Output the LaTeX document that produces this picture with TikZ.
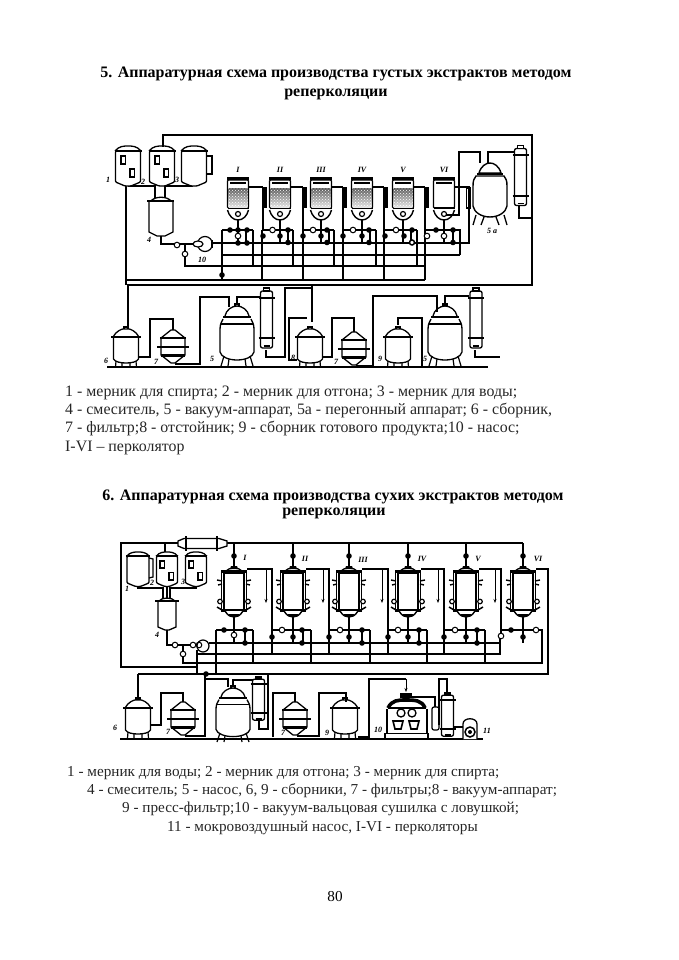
\documentclass[tikz,border=0pt]{standalone}
\usepackage{fontspec}
\setmainfont{Liberation Serif}
\usetikzlibrary{arrows.meta,patterns}
\newcommand\bcirc[2]{\fill (#1,#2) circle (2.8);}
\newcommand\wcirc[2]{\draw[fill=white,line width=1pt] (#1,#2) circle (2.8);}
\tikzset{
  pipe/.style={line width=1.05pt},
  fl/.style={line width=2.3pt},
  arr/.style={line width=1pt,-{Stealth[length=4pt,width=3pt]}},
  txta/.style={font=\fontsize{15.9}{17}\selectfont,inner sep=0pt,anchor=west,text=black!85},
  txtb/.style={font=\fontsize{15.2}{17}\selectfont,inner sep=0pt,anchor=west,text=black!85},
  ttl/.style={font=\fontsize{16}{18}\selectfont\bfseries,inner sep=0pt,anchor=center},
  lab/.style={font=\fontsize{8}{8}\selectfont\bfseries\itshape,inner sep=0pt},
  pics/msrtank/.style={code={
    \draw[line width=1.3pt,fill=white,rounded corners=1pt] (-12.5,5) -- (-12.5,36) -- (-3,40) -- (3,40) -- (12.5,36) -- (12.5,5) -- cycle;
    \draw[line width=1.3pt] (-13,5) .. controls (-9,0) and (-4,0) .. (0,0) .. controls (4,0) and (9,0) .. (13,5);
    \draw[line width=2pt] (-13.5,5) -- (13.5,5);
  }},
  pics/wins/.style={code={
    \draw[line width=1.5pt] (-7,10) rectangle (-2.5,18);
    \draw[line width=1.5pt] (2,23) rectangle (6.5,31);
  }},
  pics/vesl/.style={code={
    \draw[line width=1.3pt,fill=white] (-12.5,0) -- (-12.5,22) .. controls (-11,25) and (-5,26) .. (0,26) .. controls (5,26) and (11,25) .. (12.5,22) -- (12.5,0);
    \draw[line width=1.3pt] (-13,0) .. controls (-10,-6) and (-4,-8) .. (-3,-8) -- (3,-8) .. controls (4,-8) and (10,-6) .. (13,0);
    \draw[line width=1.6pt] (-2,-8) -- (-2,-10) -- (2,-10) -- (2,-8);
    \draw[fl] (-15,0) -- (15,0);
    \draw[line width=1.2pt] (-10,24) -- (-10.5,30) (10,24) -- (10.5,30) (-4,26) -- (-4,30) (4,26) -- (4,30);
  }},
  pics/filt/.style={code={
    \draw[line width=1.3pt,fill=white] (-2,-17) -- (2,-17) -- (12,-9) -- (12,8) -- (2,16) -- (-2,16) -- (-12,8) -- (-12,-9) -- cycle;
    \draw[fl] (-13,-9) -- (13,-9);
    \draw[line width=2pt] (-16,0) -- (16,0);
    \draw[line width=3pt] (-12,8) -- (12,8);
  }},
  pics/vacap/.style={code={
    \draw[line width=1.3pt,fill=white] (-14,3) .. controls (-16,6) and (-17,9) .. (-17,14) -- (-17,36) .. controls (-16,41) and (-8,44) .. (0,44) .. controls (8,44) and (16,41) .. (17,36) -- (17,14) .. controls (17,9) and (16,6) .. (14,3);
    \draw[line width=1.3pt] (-12,0) .. controls (-11,-6) and (-5,-10) .. (0,-10) .. controls (5,-10) and (11,-6) .. (12,0);
    \draw[line width=2.8pt] (-14,1) -- (14,1);
    \draw[line width=1.3pt] (-16,8) -- (16,8);
    \draw[line width=1.2pt] (-13,40) -- (-16,50) (13,40) -- (16,50) (-8,43) -- (-9,50) (8,43) -- (9,50);
    \draw[line width=1.6pt] (-2,-10) -- (-2,-12) -- (2,-12) -- (2,-10);
  }},
  pics/condn/.style={code={
    \draw[line width=1.3pt,fill=white,rounded corners=2pt] (-6,3) rectangle (6,60);
    \draw[line width=1.4pt,fill=white] (-3,0) rectangle (3,3);
    \draw[line width=2pt] (-8,10) -- (8,10) (-8,50) -- (8,50);
    \draw[line width=1.6pt] (-3,58) -- (3,58);
  }},
  pics/percE/.style={code={
    \draw[line width=1.4pt,fill=white,rounded corners=1pt] (-10.5,3) rectangle (10.5,31);
    \draw[line width=3pt] (-11,1.5) -- (11,1.5);
    \draw[line width=1.6pt] (-8,6) -- (8,6);
    \draw[line width=1.4pt,fill=white] (-10.5,33) .. controls (-9,39) and (-5,43) .. (0,43) .. controls (5,43) and (9,39) .. (10.5,33);
    \draw[line width=2.2pt] (-10.5,31) -- (10.5,31);
    \draw[line width=1.2pt,fill=white] (0,37) circle (2.5);
  }},
  pics/percA/.style={code={
    \pic at (0,0) {percE};
    \shade[top color=black!65,bottom color=black!10] (-9.5,11) rectangle (9.5,30);
    \fill[pattern=crosshatch dots,pattern color=white] (-9.5,11) rectangle (9.5,30);
  }},
  pics/percB/.style={code={
    \draw[line width=1.7pt,fill=white] (-10,6) rectangle (10,43);
    \draw[line width=1pt] (-12.5,5) -- (-12.5,43) (12.5,5) -- (12.5,43);
    \draw[line width=1.3pt,fill=white] (-8,4) .. controls (-5,0) and (5,0) .. (8,4);
    \draw[line width=2.3pt] (-13,4.5) -- (13,4.5);
    \draw[line width=2.3pt] (-13,43.5) -- (13,43.5);
    \fill (-3,-1) -- (3,-1) -- (4,2) -- (-4,2) -- cycle;
    \draw[line width=1.4pt] (-17,13) -- (-12,14) (17,13) -- (12,14) (-16,18) -- (-12,17) (16,18) -- (12,17);
    \draw[line width=1.2pt,fill=white] (-14,34.5) circle (2.3);
    \draw[line width=1.2pt,fill=white] (14,34.5) circle (2.3);
    \draw[line width=1.5pt] (-17,40) -- (-12,43) (17,40) -- (12,43);
    \draw[line width=1.4pt,fill=white] (-9,44) .. controls (-6,49) and (-3,50) .. (0,50) .. controls (3,50) and (6,49) .. (9,44);
    \draw[line width=2pt] (-5,47.5) -- (5,47.5);
  }},
}
\begin{document}
\begin{tikzpicture}[x=1pt,y=-1pt]
\useasboundingbox (0,0) rectangle (678,960);
% ===== texts
\node[ttl] (t1a) at (336,74) {5. Аппаратурная схема производства густых экстрактов методом};
\node[ttl] (t1b) at (336,94) {реперколяции};
\node[txta] (c1a) at (65,393) {1 - мерник для спирта; 2 - мерник для отгона; 3 - мерник для воды;};
\node[txta] (c1b) at (65,411) {4 - смеситель, 5 - вакуум-аппарат, 5а - перегонный аппарат; 6 - сборник,};
\node[txta] (c1c) at (65,429) {7 - фильтр;8 - отстойник; 9 - сборник готового продукта;10 - насос;};
\node[txta] (c1d) at (65,448) {I-VI – перколятор};
\node[ttl] (t2a) at (333,497) {6. Аппаратурная схема производства сухих экстрактов методом};
\node[ttl] (t2b) at (334,513) {реперколяции};
\node[txtb] (c2a) at (67,773) {1 - мерник для воды; 2 - мерник для отгона; 3 - мерник для спирта;};
\node[txtb] (c2b) at (87,791) {4 - смеситель; 5 - насос, 6, 9 - сборники, 7 - фильтры;8 - вакуум-аппарат;};
\node[txtb] (c2c) at (122,809) {9 - пресс-фильтр;10 - вакуум-вальцовая сушилка с ловушкой;};
\node[txtb] (c2d) at (167,828) {11 - мокровоздушный насос, I-VI - перколяторы};
\node[font=\fontsize{15.2}{17}\selectfont,inner sep=0pt] (pg) at (335,897) {80};

% ===== DIAGRAM 1 : upper part
\draw[pipe] (163,147) -- (163,135) -- (532,135) -- (532,285) -- (127,285);
\draw[pipe] (127,280) -- (425,280);
\draw[pipe] (126,186) -- (126,285);
\draw[pipe] (128,186) -- (155,186) -- (155,198);
\draw[pipe] (193,186) -- (165,186) -- (165,198);
\pic at (128,146) {msrtank}; \pic at (128,146) {wins};
\pic at (162,146) {msrtank}; \pic at (162,146) {wins};
\pic at (194,146) {msrtank};
\draw[line width=1.3pt] (206.5,156) -- (212,156) -- (212,174) -- (206.5,174);
% mixer
\draw[line width=1.3pt,fill=white] (149,201) -- (149,232) -- (157,236) -- (165,236) -- (173,232) -- (173,201);
\draw[line width=1.3pt] (151,201) .. controls (155,196) and (167,196) .. (171,201);
\draw[fl] (147,201) -- (174,201);
\draw[pipe] (161,236) -- (161,244) -- (198,244);
\draw[pipe] (185,244) -- (185,266) -- (425,266);
\draw[line width=1.2pt,fill=white] (205,244) circle (7.5);
\draw[line width=1.2pt,fill=white] (198,244) ellipse (5 and 3);
\draw[line width=1.5pt] (212,240) -- (212,248);
\wcirc{177}{245}
\wcirc{185}{254}
% buses
\draw[pipe] (212,243) -- (469,243) -- (469,187) -- (455,187);
\draw[pipe] (222,255) -- (460,255);
% network
\foreach \c/\L/\R in {238/222/253,280/262/293,321/303/334,362/343/376,403/384/417}{
  \draw[pipe] (\L,230) -- (\R,230);
  \draw[pipe] (\L,230) -- (\L,280);
  \draw[pipe] (\R,230) -- (\R,266);
  \draw[pipe] (\c,214) -- (\c,243);
  \pgfmathsetmacro\q{\c+8}
  \draw[pipe] (\q,230) -- (\q,243);
}
\draw[pipe] (425,230) -- (460,230) -- (460,255);
\draw[pipe] (425,230) -- (425,280);
\draw[pipe] (444,214) -- (444,243);
\draw[pipe] (453,230) -- (453,243);
\foreach \c/\nx in {238/263,280/303,321/343,362/384,403/425}{
  \pgfmathsetmacro\xa{\c+10}
  \pgfmathsetmacro\xb{\nx+1}
  \pgfmathsetmacro\xc{\nx+3}
  \draw[pipe] (\xa,187) -- (\nx,187);
  \draw[pipe] (\nx,187) -- (\nx,230);
  \draw[line width=1.1pt] (\xb,188) rectangle (\xc,207);
}
\draw[line width=1.1pt] (466.5,188) rectangle (470.5,208);
% percolators
\foreach \c in {238,280,321,362,403}{ \pic at (\c,177) {percA}; }
\pic at (444,177) {percE};
% valves
\wcirc{238}{236} \bcirc{230}{230} \bcirc{247}{230} \bcirc{238}{230} \bcirc{247}{243} \bcirc{238}{243}
\wcirc{272.5}{230} \bcirc{288}{230} \bcirc{280}{236} \bcirc{263}{236} \bcirc{288}{242.5}
\wcirc{313}{230} \bcirc{327}{230} \bcirc{321}{236} \bcirc{303}{236} \bcirc{327}{242.5}
\wcirc{353}{230} \bcirc{369}{230} \bcirc{362}{236} \bcirc{343}{236} \bcirc{369}{242.5}
\wcirc{396}{230} \bcirc{412}{230} \bcirc{404}{236} \bcirc{385}{236}
\draw[line width=1.5pt,fill=white] (412,242.5) circle (2.5);
\bcirc{436}{230} \bcirc{453}{230} \wcirc{444}{236} \bcirc{453}{242.5} \wcirc{427}{236}
\bcirc{222}{275}
% still 5a
\draw[pipe] (446,215) -- (459,215) -- (459,152) -- (480,152) -- (480,163);
\draw[line width=1.4pt,fill=white] (476,176) .. controls (474,178) and (473,181) .. (473,186) -- (473,206) .. controls (474,212) and (481,217) .. (490,217) .. controls (499,217) and (506,212) .. (507,206) -- (507,186) .. controls (507,181) and (506,178) .. (504,176) -- cycle;
\draw[line width=1.4pt,fill=white] (479,173) .. controls (481,166) and (486,163) .. (490,163) .. controls (494,163) and (499,166) .. (501,173) -- cycle;
\draw[line width=2.6pt] (477,174) -- (503,174);
\draw[line width=1.3pt] (476,215) -- (473,225) (504,215) -- (507,225) (484,217) -- (481,225) (496,217) -- (499,225);
\draw[line width=1.6pt] (488,163) -- (488,152) -- (514,152);
\draw[pipe] (519,205) -- (519,218) -- (532,218);
\pic at (520.5,145.5) {condn};
% labels
\node[lab] (a1) at (108,180) {1};
\node[lab] (a2) at (143,182) {2};
\node[lab] (a3) at (177,180) {3};
\node[lab] (a4) at (149,240) {4};
\node[lab] (a10) at (202,260) {10};
\node[lab] (r1) at (238,170) {I};
\node[lab] (r2) at (280,170) {II};
\node[lab] (r3) at (321,170) {III};
\node[lab] (r4) at (362,170) {IV};
\node[lab] (r5) at (403,170) {V};
\node[lab] (r6) at (444,170) {VI};
\node[lab] (a5a) at (492,231) {5 a};

% ===== DIAGRAM 1 : lower part
\draw[line width=1.6pt] (107,367) -- (488,367);
\draw[pipe] (128,285) -- (128,328);
\draw[pipe] (139,357) -- (150,357) -- (150,319) -- (173,319) -- (173,330);
\draw[pipe] (175,364) -- (200,364) -- (200,297) -- (229,297) -- (229,307);
\draw[pipe] (237,305) -- (237,297) -- (260,297);
\draw[pipe] (266,350) -- (266,357) -- (285,357) -- (285,288) -- (312,288);
\draw[pipe] (312,285) -- (312,322);
\draw[pipe] (297,360) -- (289,360) -- (289,318) -- (307,318);
\draw[pipe] (323,357) -- (332,357) -- (332,318) -- (354,318) -- (354,332);
\draw[pipe] (356,366) -- (373,366) -- (373,296) -- (437,296) -- (437,312);
\draw[pipe] (398,325) -- (398,318) -- (422,318) -- (422,367);
\draw[pipe] (445,306) -- (445,296) -- (469,296);
\draw[pipe] (475,350) -- (475,357) -- (500,357);
\pic at (126,337) {vesl};
\pic at (173,347) {filt};
\pic at (237,316) {vacap};
\pic at (266.5,288) {condn};
\pic at (310,337) {vesl};
\pic at (354,349) {filt};
\pic at (398,337) {vesl};
\pic at (445,316) {vacap};
\pic at (476,288) {condn};
\node[lab] (b6) at (106,361) {6};
\node[lab] (b7) at (156,362) {7};
\node[lab] (b5) at (212,359) {5};
\node[lab] (b8) at (293,358) {8};
\node[lab] (b72) at (336,362) {7};
\node[lab] (b9) at (380,359) {9};
\node[lab] (b52) at (425,359) {5};

% ===== DIAGRAM 2 : upper part
\draw[pipe] (138,674) -- (548,674) -- (548,569) -- (536,569);
\draw[pipe] (197,667) -- (121,667) -- (121,543) -- (165,543) -- (165,552);
\draw[pipe] (165,543) -- (178,543);
\draw[pipe] (225,543) -- (523,543);
% measuring tanks
\draw[pipe] (138,585) -- (138,588) -- (163,588) -- (163,599);
\draw[pipe] (196,585) -- (196,588) -- (170,588) -- (170,599);
\draw[pipe] (167,582) -- (167,599);
\pic at (138,552) [yscale=.86,xscale=.88] {msrtank};
\draw[line width=1.3pt] (149,558) -- (153,559) -- (153,577) -- (149,578);
\pic at (167,552) [yscale=.86,xscale=.84] {msrtank}; \pic at (167,552) [yscale=.9] {wins};
\pic at (196,552) [yscale=.86,xscale=.84] {msrtank}; \pic at (196,552) [yscale=.9] {wins};
% horizontal condenser
\draw[line width=1.3pt,fill=white] (178,541) -- (184,538.5) -- (219,538.5) -- (227,541) -- (227,546) -- (219,548.5) -- (184,548.5) -- (178,546) -- cycle;
\draw[line width=2.6pt] (186,536) -- (186,551) (217,536) -- (217,551);
% mixer
\draw[line width=1.3pt,fill=white] (158,601) -- (158,627) -- (165,630) -- (169,630) -- (176,627) -- (176,601);
\draw[line width=1.3pt] (159,601) .. controls (162,597) and (172,597) .. (175,601);
\draw[fl] (155,601) -- (179,601);
% outlet
\draw[pipe] (167,630) -- (167,645) -- (200,645);
\draw[pipe] (183,645) -- (183,663) -- (542,663) -- (542,630) -- (536,630);
\draw[pipe] (197,650) -- (197,674);
\draw[pipe] (197,654) -- (500,654) -- (500,637);
\draw[pipe] (209,643) -- (500,643);
\draw[pipe] (216,630) -- (216,674);
% network
\foreach \c/\L/\R in {234/216/253,293/272/311,349/329/370,408/388/427,466/444/485}{
  \draw[pipe] (\L,630) -- (\R,630);
  \draw[pipe] (\R,630) -- (\R,663);
  \pgfmathsetmacro\q{\R-8}
  \draw[pipe] (\q,630) -- (\q,643);
}
\draw[pipe] (501,630) -- (536,630);
\foreach \L in {272,329,388,444}{ \draw[pipe] (\L,630) -- (\L,654); }
\foreach \c/\L in {234/272,293/329,349/388,408/444,466/501}{
  \pgfmathsetmacro\xa{\c+13}
  \pgfmathsetmacro\xb{\L-6}
  \draw[pipe] (\xa,569) -- (\L,569) -- (\L,636);
  \draw[arr] (\xb,569) -- (\xb,603);
}
\foreach \c in {234,293,349,408,466,523}{
  \draw[pipe] (\c,543) -- (\c,566);
  \bcirc{\c}{556}
  \draw[pipe] (\c,616) -- (\c,643);
  \pic at (\c,567) {percB};
}
\wcirc{234}{635} \bcirc{224}{630} \bcirc{245}{630} \bcirc{245}{643}
\wcirc{282}{630} \bcirc{302}{630} \bcirc{293}{637} \bcirc{272}{637} \bcirc{302}{643}
\wcirc{340}{630} \bcirc{362}{630} \bcirc{349}{637} \bcirc{329}{637} \bcirc{362}{643}
\wcirc{398}{630} \bcirc{419}{630} \bcirc{408}{637} \bcirc{388}{637} \bcirc{419}{643}
\wcirc{455}{630} \bcirc{477}{630} \bcirc{466}{637} \bcirc{444}{637} \bcirc{477}{643}
\bcirc{511}{630} \wcirc{536}{630} \bcirc{523}{637} \wcirc{501}{636}
% pump group
\wcirc{175}{645} \wcirc{193}{645} \wcirc{183}{654} \wcirc{199}{645}
\draw[line width=1.2pt] (203,646) circle (6);
\bcirc{206}{674}
% labels
\node[lab] (d1) at (127,589) {1};
\node[lab] (d2) at (152,583) {2};
\node[lab] (d3) at (183,582) {3};
\node[lab] (d4) at (157,635) {4};
\node[lab] (s1) at (245,558) {I};
\node[lab] (s2) at (305,559) {II};
\node[lab] (s3) at (363,560) {III};
\node[lab] (s4) at (422,559) {IV};
\node[lab] (s5) at (478,559) {V};
\node[lab] (s6) at (538,559) {VI};

% ===== DIAGRAM 2 : lower part
\draw[line width=1.6pt] (120,739) -- (483,739);
\draw[pipe] (138,674) -- (138,700);
\draw[pipe] (151,725) -- (161,725) -- (161,693) -- (183,693) -- (183,702);
\draw[pipe] (185,736) -- (205,736) -- (205,674);
\draw[pipe] (206,679) -- (228,679) -- (228,687);
\draw[pipe] (233,687) -- (233,680) -- (253,680);
\draw[pipe] (259,717) -- (259,729) -- (268,729) -- (268,674);
\draw[pipe] (273,737) -- (273,693) -- (295,693) -- (295,702);
\draw[pipe] (297,736) -- (319,736) -- (319,693) -- (346,693) -- (346,702);
\draw[pipe] (358,737) -- (369,737) -- (369,679) -- (406,679);
\draw[-{Stealth[length=4pt,width=3pt]},line width=1pt] (406,679) -- (406,692);
\pic at (138,708) {vesl};
\pic at (183,719) {filt};
\pic at (233,697) [yscale=.9] {vacap};
\pic at (258.5,677) [yscale=.72] {condn};
\pic at (295,719) {filt};
\pic at (345,708) {vesl};
% dryer
\draw[line width=1.3pt] (387,709) -- (387,733) (427,709) -- (427,733);
\draw[line width=1.5pt,fill=white] (385,733.5) rectangle (428,739);
\draw[line width=3.6pt] (388,708) .. controls (392,700) and (398,700) .. (406,700) .. controls (414,700) and (422,700) .. (425,708);
\draw[line width=1.4pt] (388,708) -- (426,708);
\fill (400,693) rectangle (412,698);
\draw[line width=1.3pt,fill=white] (401,713) circle (4);
\draw[line width=1.3pt,fill=white] (412,713) circle (4);
\draw[line width=1.6pt] (393,721) -- (403,721) -- (401,729) -- (395,729) -- cycle;
\draw[line width=1.6pt] (409,721) -- (419,721) -- (417,729) -- (411,729) -- cycle;
\draw[pipe] (411,697) -- (435,697) -- (435,707);
\draw[line width=1.2pt,fill=white,rounded corners=2pt] (432,707) rectangle (439,730);
\draw[pipe] (439,725) -- (439,679) -- (447,679) -- (447,693);
\pic at (447.5,693) [yscale=.72] {condn};
\draw[pipe] (453,727) -- (463,727);
\draw[line width=1.3pt,fill=white] (463,739) -- (463,724) .. controls (463,717) and (477,717) .. (477,724) -- (477,739);
\draw[line width=1.5pt] (470,732) circle (5);
\fill (470,732) circle (2);
\node[lab] (e6) at (115,728) {6};
\node[lab] (e7) at (168,732) {7};
\node[lab] (e72) at (283,733) {7};
\node[lab] (e9) at (327,733) {9};
\node[lab] (e10) at (378,730) {10};
\node[lab] (e11) at (487,731) {11};
\end{tikzpicture}
\end{document}
